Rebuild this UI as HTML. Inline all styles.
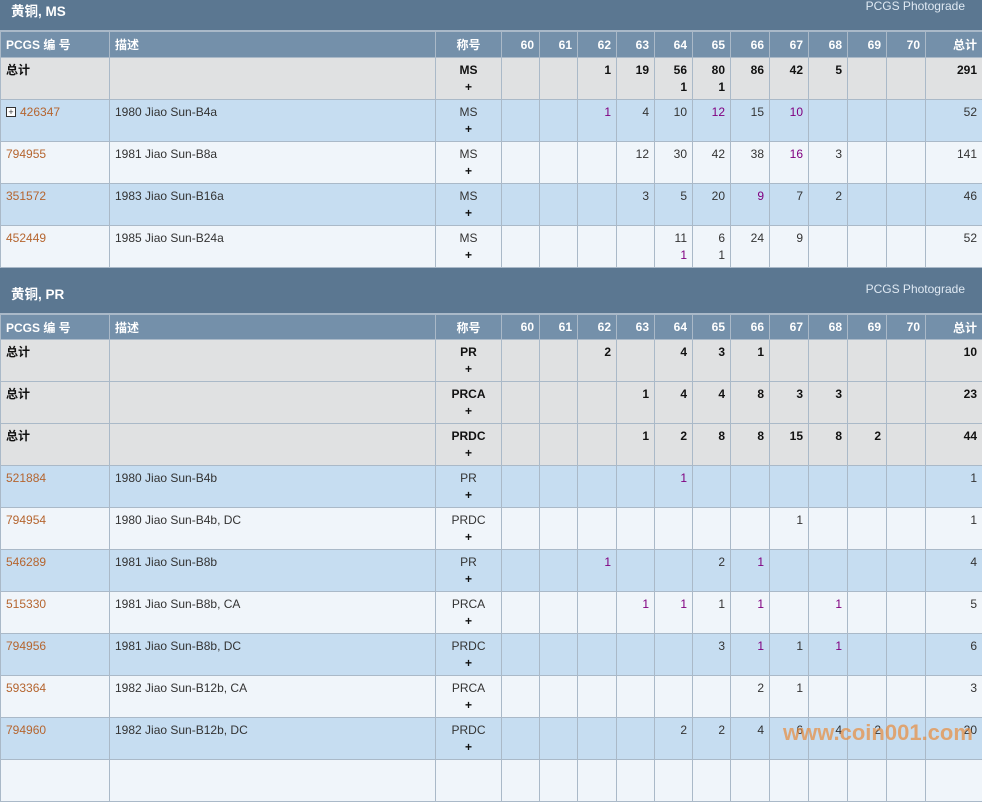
<!DOCTYPE html>
<html><head><meta charset="utf-8">
<style>
body{margin:0;width:982px;height:761px;overflow:hidden;background:#fff;font-family:"Liberation Sans","Noto Sans CJK SC",sans-serif;font-size:12px;color:#333;position:relative}
.wrap{position:absolute;left:0;width:982px}
.sh{height:45px;background:#5b7791;color:#fff;position:relative;border-bottom:1px solid #a9b9c9}
.sh .t{position:absolute;left:11px;top:15px;font-weight:bold;font-size:13.5px}
.sh .p{position:absolute;right:17px;top:14px;color:#dfe9f3;font-size:12px}
table{border-collapse:collapse;table-layout:fixed;width:982px}
td,th{border:1px solid #aab9c8;padding:0 5px;vertical-align:top;overflow:hidden;white-space:nowrap}
th{background:#7490aa;color:#fff;height:25px;text-align:right;font-weight:bold;vertical-align:middle;font-size:12px}
.t2 th{height:24px}
th.l{text-align:left}
th.c{text-align:center}
td{height:42px;text-align:right;line-height:17px;padding-top:4px;box-sizing:border-box}
td.l{text-align:left}
td.c{text-align:center}
tr.tot td{background:#e0e1e2;font-weight:bold;color:#111}
tr.b td{background:#c6ddf1}
tr.w td{background:#f0f5fa}
a{color:#b5652f;text-decoration:none}
.p1{color:#800080}
.pl{font-weight:bold;color:#111}
.box{display:inline-block;width:8px;height:8px;border:1px solid #333;font-size:9px;line-height:8px;text-align:center;margin-right:4px;vertical-align:1px;background:#fff}
.wm{position:absolute;left:783px;top:720px;color:rgba(232,140,60,0.7);font-weight:bold;font-size:22px;font-family:"Liberation Sans",sans-serif}
</style></head><body>
<div class="wrap" style="top:-15px">
<div class="sh"><span class="t">黄铜, MS</span><span class="p">PCGS Photograde</span></div>
<table>
<colgroup><col style="width:109px"><col style="width:326px"><col style="width:66px"><col style="width:38px"><col style="width:38px"><col style="width:39px"><col style="width:38px"><col style="width:38px"><col style="width:38px"><col style="width:39px"><col style="width:39px"><col style="width:39px"><col style="width:39px"><col style="width:39px"><col style="width:57px"></colgroup>
<tr><th class="l">PCGS 编 号</th><th class="l">描述</th><th class="c">称号</th><th>60</th><th>61</th><th>62</th><th>63</th><th>64</th><th>65</th><th>66</th><th>67</th><th>68</th><th>69</th><th>70</th><th>总计</th></tr>
<tr class="tot"><td class="l">总计</td><td></td><td class="c">MS<br>+</td><td></td><td></td><td>1</td><td>19</td><td>56<br>1</td><td>80<br>1</td><td>86</td><td>42</td><td>5</td><td></td><td></td><td>291</td></tr>
<tr class="b"><td class="l"><span class="box">+</span><a>426347</a></td><td class="l">1980 Jiao Sun-B4a</td><td class="c">MS<br><span class="pl">+</span></td><td></td><td></td><td class="p1">1</td><td>4</td><td>10</td><td class="p1">12</td><td>15</td><td class="p1">10</td><td></td><td></td><td></td><td>52</td></tr>
<tr class="w"><td class="l"><a>794955</a></td><td class="l">1981 Jiao Sun-B8a</td><td class="c">MS<br><span class="pl">+</span></td><td></td><td></td><td></td><td>12</td><td>30</td><td>42</td><td>38</td><td class="p1">16</td><td>3</td><td></td><td></td><td>141</td></tr>
<tr class="b"><td class="l"><a>351572</a></td><td class="l">1983 Jiao Sun-B16a</td><td class="c">MS<br><span class="pl">+</span></td><td></td><td></td><td></td><td>3</td><td>5</td><td>20</td><td class="p1">9</td><td>7</td><td>2</td><td></td><td></td><td>46</td></tr>
<tr class="w"><td class="l"><a>452449</a></td><td class="l">1985 Jiao Sun-B24a</td><td class="c">MS<br><span class="pl">+</span></td><td></td><td></td><td></td><td></td><td>11<br><span class="p1">1</span></td><td>6<br>1</td><td>24</td><td>9</td><td></td><td></td><td></td><td>52</td></tr>
</table>
<div class="sh"><span class="t">黄铜, PR</span><span class="p">PCGS Photograde</span></div>
<table class="t2">
<colgroup><col style="width:109px"><col style="width:326px"><col style="width:66px"><col style="width:38px"><col style="width:38px"><col style="width:39px"><col style="width:38px"><col style="width:38px"><col style="width:38px"><col style="width:39px"><col style="width:39px"><col style="width:39px"><col style="width:39px"><col style="width:39px"><col style="width:57px"></colgroup>
<tr><th class="l">PCGS 编 号</th><th class="l">描述</th><th class="c">称号</th><th>60</th><th>61</th><th>62</th><th>63</th><th>64</th><th>65</th><th>66</th><th>67</th><th>68</th><th>69</th><th>70</th><th>总计</th></tr>
<tr class="tot"><td class="l">总计</td><td></td><td class="c">PR<br>+</td><td></td><td></td><td>2</td><td></td><td>4</td><td>3</td><td>1</td><td></td><td></td><td></td><td></td><td>10</td></tr>
<tr class="tot"><td class="l">总计</td><td></td><td class="c">PRCA<br>+</td><td></td><td></td><td></td><td>1</td><td>4</td><td>4</td><td>8</td><td>3</td><td>3</td><td></td><td></td><td>23</td></tr>
<tr class="tot"><td class="l">总计</td><td></td><td class="c">PRDC<br>+</td><td></td><td></td><td></td><td>1</td><td>2</td><td>8</td><td>8</td><td>15</td><td>8</td><td>2</td><td></td><td>44</td></tr>
<tr class="b"><td class="l"><a>521884</a></td><td class="l">1980 Jiao Sun-B4b</td><td class="c">PR<br><span class="pl">+</span></td><td></td><td></td><td></td><td></td><td class="p1">1</td><td></td><td></td><td></td><td></td><td></td><td></td><td>1</td></tr>
<tr class="w"><td class="l"><a>794954</a></td><td class="l">1980 Jiao Sun-B4b, DC</td><td class="c">PRDC<br><span class="pl">+</span></td><td></td><td></td><td></td><td></td><td></td><td></td><td></td><td>1</td><td></td><td></td><td></td><td>1</td></tr>
<tr class="b"><td class="l"><a>546289</a></td><td class="l">1981 Jiao Sun-B8b</td><td class="c">PR<br><span class="pl">+</span></td><td></td><td></td><td class="p1">1</td><td></td><td></td><td>2</td><td class="p1">1</td><td></td><td></td><td></td><td></td><td>4</td></tr>
<tr class="w"><td class="l"><a>515330</a></td><td class="l">1981 Jiao Sun-B8b, CA</td><td class="c">PRCA<br><span class="pl">+</span></td><td></td><td></td><td></td><td class="p1">1</td><td class="p1">1</td><td>1</td><td class="p1">1</td><td></td><td class="p1">1</td><td></td><td></td><td>5</td></tr>
<tr class="b"><td class="l"><a>794956</a></td><td class="l">1981 Jiao Sun-B8b, DC</td><td class="c">PRDC<br><span class="pl">+</span></td><td></td><td></td><td></td><td></td><td></td><td>3</td><td class="p1">1</td><td>1</td><td class="p1">1</td><td></td><td></td><td>6</td></tr>
<tr class="w"><td class="l"><a>593364</a></td><td class="l">1982 Jiao Sun-B12b, CA</td><td class="c">PRCA<br><span class="pl">+</span></td><td></td><td></td><td></td><td></td><td></td><td></td><td>2</td><td>1</td><td></td><td></td><td></td><td>3</td></tr>
<tr class="b"><td class="l"><a>794960</a></td><td class="l">1982 Jiao Sun-B12b, DC</td><td class="c">PRDC<br><span class="pl">+</span></td><td></td><td></td><td></td><td></td><td>2</td><td>2</td><td>4</td><td>6</td><td>4</td><td>2</td><td></td><td>20</td></tr>
<tr class="w"><td class="l"></td><td></td><td></td><td></td><td></td><td></td><td></td><td></td><td></td><td></td><td></td><td></td><td></td><td></td><td></td></tr>
</table>
</div>
<div class="wm">www.coin001.com</div>
</body></html>
